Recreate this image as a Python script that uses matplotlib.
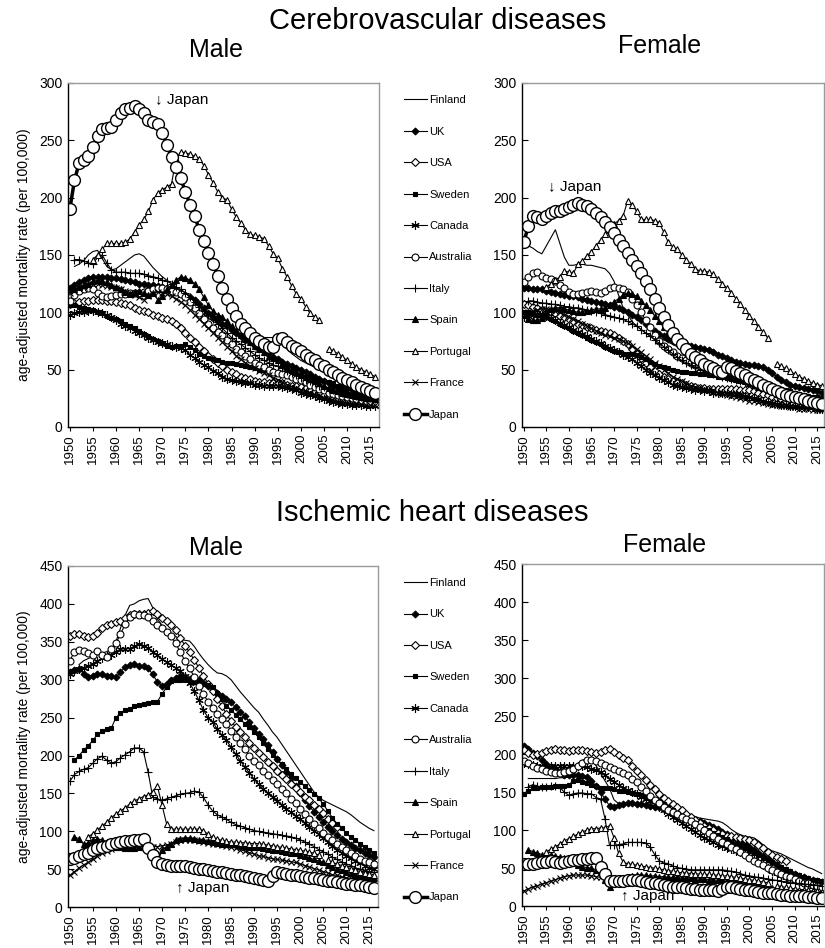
import numpy as np
import matplotlib
matplotlib.use('Agg')
import matplotlib.pyplot as plt

plt.rcParams['font.family'] = ['Liberation Sans', 'DejaVu Sans']

years = list(range(1950, 2017))
countries = ['Finland', 'UK', 'USA', 'Sweden', 'Canada', 'Australia',
             'Italy', 'Spain', 'Portugal', 'France', 'Japan']
N = None

# ---- Cerebrovascular diseases, male (1950-2016) ----
cer_m_finland = [N, 140, 142, 145, 150, 153, 154, 147, 140, 137,
                 138, 141, 144, 147, 150, 151, 149, 144, 139, 135,
                 131, 128, 125, 122, 118, 114, 110, 106, 102, 98,
                 95, 92, 90, 88, 87, 86, 85, 84, 82, 81,
                 80, 79, 78, 78, 78, 76, 72, 68, 64, 61,
                 58, 56, 54, 52, 50, 48, 46, 44, 42, 41,
                 39, 37, 35, 33, 32, 31, 30]
cer_m_uk = [121, 124, 126, 128, 130, 131, 131, 131, 131, 130,
            130, 129, 128, 127, 126, 125, 125, 124, 124, 123,
            122, 121, 120, 119, 117, 115, 113, 111, 107, 104,
            99, 96, 93, 90, 88, 85, 82, 79, 76, 74,
            71, 68, 66, 63, 61, 59, 57, 55, 53, 51,
            50, 48, 46, 44, 42, 40, 38, 36, 34, 32,
            30, 29, 28, 27, 26, 25, 24]
cer_m_usa = [107, 108, 109, 110, 110, 111, 111, 111, 110, 110,
             109, 108, 107, 106, 104, 102, 101, 100, 98, 97,
             95, 94, 92, 90, 86, 82, 78, 74, 70, 66,
             62, 59, 56, 53, 50, 48, 46, 44, 43, 42,
             40, 39, 39, 38, 38, 38, 38, 37, 36, 36,
             35, 34, 33, 31, 30, 28, 27, 26, 25, N,
             N, N, N, N, N, N, N]
cer_m_sweden = [106, 106, 105, 104, 103, 102, 100, 99, 97, 95,
                94, 92, 90, 88, 86, 84, 81, 79, 77, 75,
                73, 71, 70, 71, 71, 72, 70, 67, 64, 62,
                60, 59, 58, 57, 56, 56, 55, 54, 53, 52,
                51, 50, 50, 49, 49, 48, 47, 47, 46, 45,
                45, 44, 43, 42, 41, 40, 39, 38, 36, 35,
                34, 33, 31, 30, 29, 28, 27]
cer_m_canada = [98, 99, 100, 100, 101, 101, 100, 99, 98, 96,
                93, 90, 88, 86, 84, 82, 80, 78, 76, 74,
                73, 72, 71, 70, 69, 67, 63, 60, 57, 54,
                52, 49, 47, 44, 42, 41, 40, 39, 38, 38,
                37, 37, 36, 36, 36, 36, 35, 34, 33, 32,
                30, 29, 28, 27, 25, 24, 23, 22, 21, 20,
                20, 19, 19, 19, 18, 18, 18]
cer_m_australia = [110, 115, 119, 120, 121, 120, 117, 114, 113, 114,
                   115, 116, 116, 117, 117, 117, 118, 119, 120, 121,
                   121, 120, 119, 118, 116, 113, 109, 104, 99, 94,
                   90, 86, 83, 80, 76, 72, 68, 65, 62, 59,
                   56, 54, 52, 50, 48, 47, 46, 45, 44, 42,
                   41, 39, 37, 35, 33, 32, 30, 29, 28, 27,
                   26, 25, 24, 23, 22, 21, 21]
cer_m_italy = [N, 146, 146, 145, 143, 142, 148, 150, 143, 137,
               135, 135, 135, 134, 134, 134, 133, 132, 131, 130,
               128, 127, 125, 122, 120, 117, 113, 109, 105, 101,
               98, 94, 90, 86, 82, 78, 75, 72, 69, 66,
               63, 60, 58, 56, 54, 53, 51, 49, 47, 45,
               43, 41, 40, 38, 36, 35, 33, 32, 31, 30,
               29, 28, 27, 26, 25, 25, 24]
cer_m_spain = [N, 120, 122, 124, 125, 127, 128, 127, 126, 124,
               122, 120, 118, 116, 118, 119, 117, 115, 117, 111,
               114, 120, 124, 128, 131, 130, 128, 125, 120, 113,
               106, 101, 98, 96, 92, 88, 84, 80, 77, 74,
               71, 68, 65, 62, 60, 58, 55, 52, 50, 48,
               46, 44, 42, 40, 38, 36, 34, 32, 31, 30,
               29, 28, 27, 26, 25, 25, 24]
cer_m_portugal = [N, N, N, N, N, 146, 150, 155, 160, 160,
                  160, 160, 161, 164, 170, 176, 181, 188, 198, 204,
                  207, 209, 212, 234, 240, 239, 238, 236, 234, 228,
                  220, 213, 205, 200, 198, 190, 183, 178, 172, 168,
                  167, 166, 164, 158, 151, 147, 138, 131, 123, 116,
                  112, 105, 99, 96, 93, N, 68, 66, 64, 61,
                  58, 55, 52, 50, 48, 46, 44]
cer_m_france = [117, 119, 121, 122, 124, 125, 125, 124, 123, 122,
                121, 120, 119, 117, 115, 113, 111, 114, 116, 118,
                117, 116, 114, 112, 109, 106, 102, 98, 94, 90,
                86, 82, 78, 74, 70, 66, 62, 59, 56, 53,
                51, 49, 47, 45, 43, 41, 39, 37, 35, 34,
                32, 31, 30, 28, 27, 25, 24, 23, 22, 22,
                21, 20, 20, 20, 19, 19, 19]
cer_m_japan = [190, 215, 230, 233, 236, 244, 254, 260, 261, 262,
               268, 274, 277, 278, 280, 277, 274, 268, 266, 264,
               256, 246, 235, 227, 217, 205, 194, 184, 172, 162,
               152, 142, 132, 121, 112, 104, 97, 90, 86, 82,
               78, 75, 72, 70, 70, 77, 78, 74, 71, 69,
               66, 63, 60, 58, 55, 53, 50, 48, 45, 43,
               41, 39, 37, 35, 33, 31, 30]

# ---- Cerebrovascular diseases, female ----
cer_f_finland = [160, 158, 156, 153, 151, 158, 165, 172, 160, 148,
                 141, 141, 142, 142, 141, 141, 140, 139, 138, 134,
                 127, 115, 104, 98, 92, 88, 85, 82, 80, 78,
                 77, 76, 74, 72, 70, 68, 66, 63, 61, 59,
                 57, 55, 53, 51, 50, 49, 48, 47, 46, 45,
                 44, 42, 40, 38, 36, 34, 33, 31, 30, 29,
                 28, 27, 26, 25, 24, 24, 23]
cer_f_uk = [121, 121, 120, 120, 120, 119, 118, 117, 116, 115,
            114, 114, 113, 112, 111, 110, 109, 108, 107, 106,
            105, 104, 102, 100, 98, 96, 93, 90, 87, 84,
            81, 79, 77, 75, 74, 73, 72, 71, 70, 69,
            68, 67, 65, 63, 62, 60, 58, 57, 56, 55,
            54, 54, 53, 52, 50, 47, 44, 41, 39, 37,
            36, 35, 34, 33, 32, 31, 30]
cer_f_usa = [107, 106, 105, 104, 102, 101, 100, 99, 97, 96,
             94, 92, 90, 89, 87, 86, 85, 84, 83, 82,
             80, 78, 75, 72, 68, 64, 60, 56, 52, 49,
             46, 44, 42, 40, 39, 38, 37, 36, 35, 34,
             34, 33, 33, 33, 33, 33, 33, 33, 32, 32,
             32, 31, 30, 29, 28, 26, 25, 24, 23, N,
             N, N, N, N, N, N, N]
cer_f_sweden = [100, 100, 99, 98, 97, 96, 94, 92, 90, 88,
                86, 84, 82, 80, 78, 76, 74, 72, 70, 68,
                66, 65, 64, 64, 64, 63, 61, 59, 57, 55,
                53, 52, 51, 50, 49, 48, 48, 47, 47, 46,
                46, 45, 45, 44, 44, 43, 42, 42, 41, 41,
                40, 39, 38, 37, 36, 35, 34, 33, 32, 31,
                30, 29, 28, 27, 26, 26, 25]
cer_f_canada = [96, 97, 98, 98, 98, 97, 95, 93, 91, 89,
                87, 85, 83, 81, 79, 77, 75, 73, 71, 69,
                67, 65, 63, 61, 59, 56, 53, 50, 47, 45,
                43, 41, 39, 37, 36, 35, 34, 33, 32, 32,
                31, 31, 30, 30, 30, 30, 29, 29, 28, 27,
                26, 25, 24, 23, 22, 21, 20, 19, 19, 18,
                18, 17, 17, 17, 17, 16, 16]
cer_f_australia = [126, 131, 134, 135, 132, 130, 129, 127, 124, 121,
                   118, 116, 116, 117, 118, 119, 118, 117, 119, 121,
                   122, 121, 120, 118, 112, 106, 100, 93, 87, 80,
                   75, 71, 68, 65, 62, 60, 58, 56, 54, 53,
                   52, 51, 50, 49, 48, 47, 46, 45, 44, 42,
                   41, 39, 37, 35, 33, 31, 29, 28, 27, 26,
                   25, 24, 23, 22, 21, 20, 20]
cer_f_italy = [N, 110, 110, 109, 108, 108, 107, 107, 106, 105,
               105, 104, 104, 103, 102, 101, 100, 99, 98, 97,
               96, 95, 94, 92, 90, 88, 85, 82, 79, 76,
               73, 70, 67, 64, 61, 58, 56, 54, 52, 50,
               48, 47, 46, 45, 44, 43, 42, 41, 40, 39,
               38, 37, 36, 35, 34, 33, 32, 31, 30, 29,
               28, 27, 26, 25, 24, 24, 23]
cer_f_spain = [N, 94, 93, 93, 95, 100, 103, 104, 104, 103,
               102, 101, 100, 100, 101, 102, 103, 103, 104, 106,
               109, 112, 115, 117, 116, 114, 110, 106, 102, 97,
               92, 87, 83, 79, 75, 71, 67, 64, 61, 58,
               56, 54, 52, 50, 48, 46, 44, 42, 41, 40,
               38, 37, 35, 34, 32, 31, 29, 28, 27, 26,
               25, 24, 23, 22, 22, 21, 21]
cer_f_portugal = [N, N, N, N, N, 122, 125, 128, 131, 136,
                  135, 134, 142, 145, 149, 153, 158, 163, 168, 172,
                  177, 180, 184, 197, 194, 188, 181, 181, 181, 180,
                  178, 170, 161, 157, 155, 150, 146, 142, 138, 136,
                  136, 135, 133, 129, 125, 121, 117, 112, 107, 102,
                  97, 92, 87, 83, 78, N, 55, 53, 51, 49,
                  46, 44, 42, 40, 38, 37, 36]
cer_f_france = [98, 100, 101, 102, 103, 103, 102, 101, 100, 98,
                96, 94, 92, 90, 88, 86, 84, 82, 80, 79,
                78, 77, 75, 73, 71, 68, 65, 62, 59, 56,
                53, 50, 47, 44, 42, 40, 38, 36, 35, 34,
                33, 32, 31, 30, 29, 28, 27, 26, 25, 24,
                23, 23, 22, 21, 20, 19, 19, 18, 18, 17,
                17, 16, 16, 16, 15, 15, 15]
cer_f_japan = [161, 175, 184, 183, 181, 184, 187, 188, 188, 190,
               192, 194, 195, 194, 193, 190, 187, 183, 179, 174,
               169, 163, 158, 152, 146, 140, 134, 127, 120, 112,
               104, 96, 89, 82, 77, 72, 68, 64, 61, 58,
               55, 53, 51, 49, 48, 52, 51, 49, 47, 45,
               43, 41, 39, 37, 35, 33, 31, 30, 28, 27,
               26, 25, 24, 23, 22, 21, 20]

# ---- Ischemic heart diseases, male ----
ihd_m_finland = [N, N, 320, 325, 328, 330, 333, 335, 337, 340,
                 350, 368, 385, 398, 400, 404, 406, 407, 395, 380,
                 372, 366, 361, 357, 353, 352, 351, 344, 335, 327,
                 320, 314, 309, 308, 305, 300, 292, 284, 277, 270,
                 263, 257, 248, 240, 231, 224, 215, 206, 197, 188,
                 179, 170, 161, 152, 145, 141, 138, 135, 132, 129,
                 126, 122, 117, 112, 108, 104, 101]
ihd_m_uk = [310, 313, 314, 308, 303, 305, 307, 307, 305, 305,
            303, 310, 317, 320, 321, 318, 318, 315, 307, 297,
            292, 295, 299, 302, 305, 303, 301, 300, 299, 296,
            292, 287, 282, 278, 275, 270, 264, 258, 252, 244,
            236, 229, 222, 214, 205, 196, 187, 178, 170, 160,
            150, 141, 133, 126, 119, 113, 106, 100, 95, 90,
            86, 82, 78, 75, 72, 69, 66]
ihd_m_usa = [358, 360, 360, 358, 356, 358, 362, 368, 372, 374,
             376, 378, 381, 385, 386, 386, 387, 388, 390, 387,
             382, 377, 372, 366, 355, 345, 336, 326, 316, 305,
             295, 285, 275, 265, 255, 245, 238, 231, 224, 217,
             210, 204, 198, 192, 186, 180, 175, 169, 163, 157,
             152, 146, 141, 135, 130, 124, 117, 111, 106, N,
             N, N, N, N, N, N, N]
ihd_m_sweden = [N, 194, 200, 207, 213, 220, 228, 232, 235, 236,
                250, 256, 260, 262, 265, 267, 268, 269, 270, 271,
                281, 290, 298, 300, 300, 299, 298, 297, 296, 295,
                293, 290, 282, 274, 266, 260, 254, 248, 242, 237,
                231, 224, 216, 208, 201, 195, 189, 182, 176, 170,
                165, 160, 154, 149, 144, 136, 127, 118, 110, 104,
                98, 92, 88, 84, 80, 76, 72]
ihd_m_canada = [308, 311, 314, 316, 318, 321, 325, 328, 331, 333,
                337, 340, 341, 341, 344, 347, 345, 342, 337, 332,
                327, 323, 319, 316, 311, 305, 296, 285, 273, 260,
                250, 244, 235, 227, 220, 211, 202, 193, 185, 177,
                169, 162, 156, 150, 145, 140, 135, 130, 125, 120,
                116, 111, 106, 101, 96, 91, 86, 81, 76, 72,
                68, 65, 61, 58, 55, 52, 50]
ihd_m_australia = [325, 337, 339, 338, 335, 333, 338, 333, 330, 340,
                   348, 360, 373, 383, 386, 385, 385, 383, 378, 372,
                   368, 363, 357, 348, 336, 325, 315, 304, 292, 281,
                   271, 263, 255, 248, 241, 233, 225, 216, 208, 200,
                   193, 187, 180, 174, 168, 162, 156, 150, 143, 137,
                   130, 123, 116, 110, 104, 98, 93, 88, 83, 79,
                   75, 71, 67, 64, 61, 59, 57]
ihd_m_italy = [166, 175, 179, 182, 184, 190, 196, 199, 194, 190,
               192, 197, 201, 205, 210, 210, 205, 178, 145, 143,
               141, 143, 145, 147, 149, 150, 151, 153, 152, 145,
               135, 127, 122, 119, 116, 112, 109, 107, 105, 103,
               101, 100, 99, 98, 97, 96, 95, 94, 93, 91,
               89, 86, 83, 80, 76, 73, 70, 66, 63, 60,
               57, 55, 52, 50, 48, 47, 46]
ihd_m_spain = [N, 93, 90, 83, 85, 88, 90, 89, 86, 83,
               80, 79, 78, 78, 78, 79, 80, 78, 70, 58,
               75, 80, 84, 88, 90, 91, 91, 90, 89, 88,
               87, 86, 85, 84, 84, 83, 83, 82, 81, 80,
               80, 79, 78, 77, 76, 75, 74, 73, 72, 71,
               69, 67, 65, 63, 61, 59, 56, 53, 51, 49,
               47, 45, 43, 42, 41, 40, 39]
ihd_m_portugal = [N, N, N, N, 93, 97, 102, 107, 112, 118,
                  123, 127, 131, 136, 140, 143, 146, 148, 152, 160,
                  135, 110, 103, 103, 103, 103, 103, 103, 103, 101,
                  96, 92, 90, 88, 87, 86, 86, 85, 85, 84,
                  84, 84, 83, 82, 81, 80, 79, 78, 77, 76,
                  75, 74, 73, 71, 69, N, 62, 59, 57, 55,
                  53, 51, 49, 47, 45, 44, 43]
ihd_m_france = [42, 47, 52, 56, 59, 63, 67, 71, 74, 77,
                80, 81, 81, 80, 80, 80, 80, 80, 80, 80,
                81, 82, 84, 86, 88, 89, 89, 88, 87, 86,
                85, 84, 83, 82, 81, 80, 78, 76, 74, 72,
                70, 68, 67, 65, 64, 63, 62, 61, 60, 59,
                57, 55, 53, 51, 49, 47, 45, 43, 42, 40,
                39, 38, 37, 36, 35, 34, 33]
ihd_m_japan = [64, 65, 67, 70, 72, 75, 78, 80, 81, 83,
               85, 86, 87, 87, 88, 88, 90, 78, 69, 59,
               57, 56, 55, 55, 54, 54, 53, 52, 51, 50,
               49, 48, 47, 46, 45, 44, 43, 42, 41, 40,
               38, 37, 36, 35, 41, 46, 45, 44, 43, 42,
               41, 40, 39, 38, 37, 36, 35, 34, 33, 32,
               31, 30, 29, 29, 28, 27, 26]

# ---- Ischemic heart diseases, female ----
ihd_f_finland = [N, 168, 168, 168, 168, 168, 168, 168, 169, 169,
                 170, 175, 185, 192, 194, 193, 185, 175, 165, 155,
                 140, 135, 134, 134, 134, 134, 134, 133, 132, 131,
                 130, 129, 128, 127, 125, 124, 122, 120, 118, 116,
                 115, 114, 113, 112, 110, 106, 101, 97, 94, 92,
                 91, 90, 86, 81, 76, 73, 71, 69, 66, 63,
                 60, 57, 54, 51, 49, 46, 43]
ihd_f_uk = [211, 207, 202, 197, 192, 187, 183, 180, 176, 173,
            172, 172, 172, 171, 170, 165, 158, 150, 141, 132,
            131, 133, 135, 136, 136, 135, 134, 133, 132, 131,
            130, 128, 126, 124, 122, 120, 118, 116, 114, 112,
            110, 107, 104, 101, 98, 95, 92, 89, 86, 82,
            78, 74, 70, 66, 62, 58, 54, 51, 48, 45,
            42, 40, 38, 36, 34, 33, 32]
ihd_f_usa = [205, 202, 199, 200, 202, 204, 206, 207, 206, 205,
             204, 205, 205, 205, 204, 203, 201, 203, 206, 207,
             203, 199, 195, 192, 185, 178, 172, 166, 160, 154,
             148, 143, 138, 134, 130, 126, 122, 118, 114, 110,
             106, 103, 100, 97, 95, 93, 92, 91, 90, 89,
             87, 85, 81, 77, 72, 68, 65, 62, 59, N,
             N, N, N, N, N, N, N]
ihd_f_sweden = [148, 152, 155, 156, 157, 157, 157, 158, 158, 158,
                160, 165, 166, 164, 162, 160, 158, 156, 155, 155,
                154, 152, 151, 150, 149, 148, 146, 144, 142, 140,
                138, 135, 130, 126, 122, 118, 115, 112, 109, 106,
                103, 100, 97, 94, 91, 88, 85, 82, 79, 76,
                73, 70, 67, 64, 61, 58, 55, 52, 49, 46,
                43, 41, 39, 37, 35, 34, 33]
ihd_f_canada = [188, 187, 186, 185, 184, 184, 184, 185, 185, 185,
                185, 185, 185, 184, 183, 181, 179, 176, 172, 168,
                164, 160, 156, 153, 150, 147, 144, 141, 138, 134,
                130, 126, 122, 118, 114, 110, 106, 102, 98, 94,
                90, 87, 84, 81, 79, 77, 75, 73, 71, 69,
                66, 62, 58, 54, 50, 47, 44, 41, 38, 36,
                34, 32, 30, 29, 27, 26, 25]
ihd_f_australia = [191, 188, 185, 182, 180, 178, 176, 175, 175, 176,
                   178, 181, 185, 189, 192, 193, 191, 189, 186, 183,
                   180, 178, 175, 172, 168, 163, 157, 151, 145, 140,
                   136, 131, 127, 124, 121, 118, 115, 112, 108, 104,
                   100, 96, 92, 88, 85, 82, 78, 75, 71, 68,
                   64, 60, 57, 54, 51, 48, 45, 42, 40, 38,
                   36, 33, 31, 30, 28, 27, 26]
ihd_f_italy = [N, 157, 160, 158, 157, 157, 158, 158, 156, 150,
               146, 148, 149, 149, 148, 148, 143, 141, 115, 80,
               80, 81, 82, 84, 84, 84, 84, 83, 78, 68,
               60, 57, 56, 53, 51, 50, 49, 48, 48, 48,
               48, 48, 48, 48, 48, 47, 46, 45, 43, 41,
               40, 39, 38, 37, 36, 35, 34, 33, 32, 31,
               30, 30, 29, 29, 28, 28, 27]
ihd_f_spain = [N, 74, 72, 70, 68, 67, 67, 66, 65, 63,
               60, 57, 54, 52, 51, 50, 48, 45, 35, 26,
               30, 33, 36, 38, 40, 41, 41, 41, 40, 40,
               39, 39, 38, 38, 38, 37, 37, 37, 36, 36,
               36, 35, 35, 34, 34, 33, 33, 32, 31, 30,
               29, 28, 27, 26, 25, 24, 23, 22, 21, 20,
               19, 18, 17, 17, 16, 16, 15]
ihd_f_portugal = [N, N, N, N, N, 72, 75, 78, 82, 86,
                  89, 92, 95, 98, 100, 102, 102, 103, 103, 106,
                  90, 70, 58, 56, 55, 54, 53, 52, 51, 50,
                  49, 48, 47, 46, 45, 44, 44, 43, 43, 42,
                  42, 42, 41, 41, 40, 40, 39, 38, 37, 36,
                  35, 34, 33, 32, 31, N, 27, 26, 25, 24,
                  23, 22, 22, 21, 20, 20, 19]
ihd_f_france = [20, 23, 25, 27, 29, 31, 33, 35, 37, 39,
                40, 41, 41, 41, 41, 40, 39, 38, 36, 34,
                33, 33, 34, 35, 36, 36, 36, 35, 35, 34,
                34, 33, 33, 32, 32, 31, 30, 29, 28, 27,
                26, 25, 25, 24, 23, 22, 22, 21, 20, 19,
                18, 17, 17, 16, 15, 15, 14, 14, 13, 13,
                12, 12, 12, 11, 11, 11, 10]
ihd_f_japan = [55, 55, 56, 57, 58, 58, 59, 58, 57, 58,
               60, 61, 61, 62, 62, 63, 64, 52, 42, 33,
               33, 33, 33, 34, 34, 34, 33, 32, 31, 30,
               29, 28, 27, 26, 25, 25, 24, 23, 23, 22,
               22, 21, 21, 20, 23, 26, 25, 24, 23, 22,
               21, 20, 19, 18, 18, 17, 16, 15, 15, 14,
               14, 13, 13, 12, 12, 11, 11]

cer_male = [cer_m_finland, cer_m_uk, cer_m_usa, cer_m_sweden, cer_m_canada, cer_m_australia,
            cer_m_italy, cer_m_spain, cer_m_portugal, cer_m_france, cer_m_japan]
cer_female = [cer_f_finland, cer_f_uk, cer_f_usa, cer_f_sweden, cer_f_canada, cer_f_australia,
              cer_f_italy, cer_f_spain, cer_f_portugal, cer_f_france, cer_f_japan]
ihd_male = [ihd_m_finland, ihd_m_uk, ihd_m_usa, ihd_m_sweden, ihd_m_canada, ihd_m_australia,
            ihd_m_italy, ihd_m_spain, ihd_m_portugal, ihd_m_france, ihd_m_japan]
ihd_female = [ihd_f_finland, ihd_f_uk, ihd_f_usa, ihd_f_sweden, ihd_f_canada, ihd_f_australia,
              ihd_f_italy, ihd_f_spain, ihd_f_portugal, ihd_f_france, ihd_f_japan]

# marker style per country (Excel-like black & white)
styles = [
    dict(marker=None, lw=0.8),
    dict(marker='D', ms=3.5, mfc='black', lw=0.8),
    dict(marker='D', ms=4, mfc='white', lw=0.8),
    dict(marker='s', ms=3.5, mfc='black', lw=0.8),
    dict(marker=(6, 2, 0), ms=6, lw=0.8),
    dict(marker='o', ms=5, mfc='white', lw=0.8),
    dict(marker='+', ms=6, lw=0.8),
    dict(marker='^', ms=4.5, mfc='black', lw=0.8),
    dict(marker='^', ms=4.5, mfc='white', lw=0.8),
    dict(marker='x', ms=4.5, lw=0.8),
    dict(marker='o', ms=8.5, mfc='white', lw=2.5, mew=1.0),
]


def draw_panel(ax, series, ymax, xmax):
    handles = []
    for vals, st in zip(series, styles):
        y = np.array(vals, dtype=float)
        kw = dict(color='black', mec='black', mew=0.8)
        kw.update(st)
        h, = ax.plot(years, y, **kw)
        handles.append(h)
    ax.set_xlim(1949.6, xmax)
    ax.set_ylim(0, ymax)
    ax.set_yticks(np.arange(0, ymax + 1, 50))
    ax.set_xticks(np.arange(1950, 2016, 5))
    ax.set_xticklabels([str(v) for v in range(1950, 2016, 5)], rotation=90)
    ax.tick_params(axis='x', direction='out', length=3, labelsize=9.5, pad=2)
    ax.tick_params(axis='y', direction='in', length=4, labelsize=10, pad=4)
    for s in ['left', 'bottom']:
        ax.spines[s].set_color('black')
        ax.spines[s].set_linewidth(1.0)
    for s in ['top', 'right']:
        ax.spines[s].set_color('#9a9a9a')
        ax.spines[s].set_linewidth(1.0)
    return handles


fig = plt.figure(figsize=(8.25, 9.48), dpi=100)

ax1 = fig.add_axes([0.0824, 0.5496, 0.377, 0.3629])
ax2 = fig.add_axes([0.6327, 0.5496, 0.366, 0.3629])
ax3 = fig.add_axes([0.0824, 0.0430, 0.3758, 0.3600])
ax4 = fig.add_axes([0.6327, 0.0440, 0.366, 0.3610])

h = draw_panel(ax1, cer_male, 300, 2016.9)
draw_panel(ax2, cer_female, 300, 2016.5)
draw_panel(ax3, ihd_male, 450, 2016.9)
draw_panel(ax4, ihd_female, 450, 2016.5)

for ax in [ax1, ax3]:
    ax.set_ylabel('age-adjusted mortality rate (per 100,000)', fontsize=10, labelpad=6)

ax1.text(1968.5, 285, '\u2193 Japan', fontsize=11, va='center')
ax2.text(1955.4, 209, '\u2193 Japan', fontsize=11, va='center')
ax3.text(1973, 26, '\u2191 Japan', fontsize=11, va='center')
ax4.text(1971.5, 13, '\u2191 Japan', fontsize=11, va='center')

fig.text(0.53, 0.978, 'Cerebrovascular diseases', fontsize=21, ha='center', va='center')
fig.text(0.262, 0.947, 'Male', fontsize=18, ha='center', va='center')
fig.text(0.80, 0.952, 'Female', fontsize=18, ha='center', va='center')
fig.text(0.524, 0.459, 'Ischemic heart diseases', fontsize=21, ha='center', va='center')
fig.text(0.262, 0.422, 'Male', fontsize=18, ha='center', va='center')
fig.text(0.805, 0.425, 'Female', fontsize=18, ha='center', va='center')

for yc in [0.7284, 0.2192]:
    fig.legend(h, countries, loc='center left', bbox_to_anchor=(0.477, yc),
               frameon=False, fontsize=8, handlelength=2.1, handletextpad=0.2,
               labelspacing=1.93, borderpad=0.4)

fig.savefig('out.png', dpi=100)
